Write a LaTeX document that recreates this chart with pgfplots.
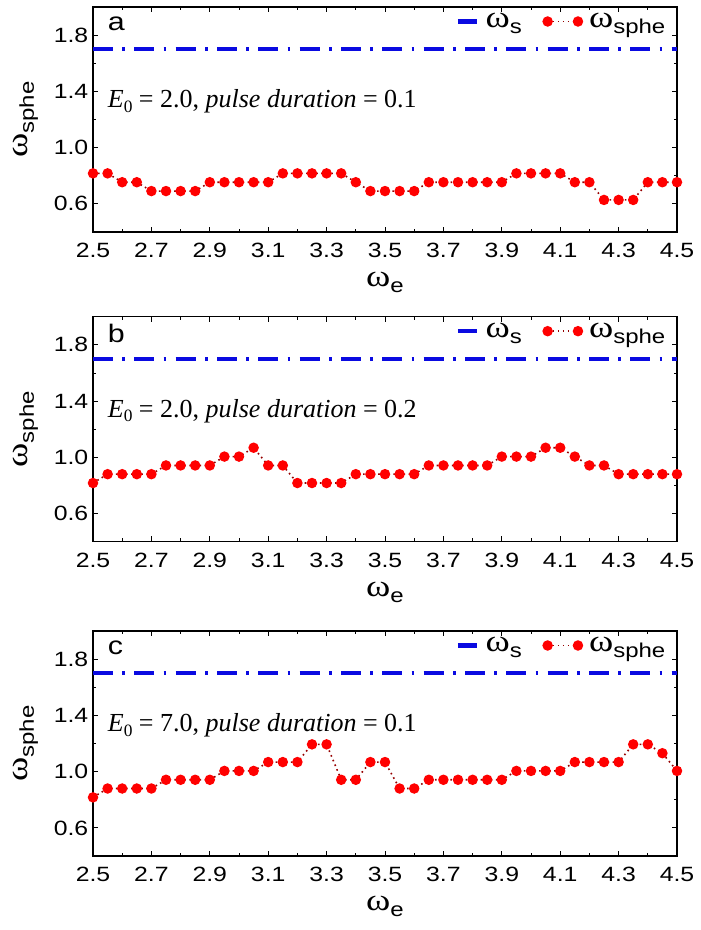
\documentclass[border=0pt]{standalone}
\usepackage{fontspec}
\setmainfont{Liberation Sans}[FakeStretch=1.2]
\newfontfamily\tnr{Liberation Serif}
\newfontfamily\tnrw{Liberation Serif}[FakeStretch=1.2]
\usepackage{pgfplots}
\pgfplotsset{compat=1.18}
\definecolor{myblue}{RGB}{10,10,225}
\definecolor{myred}{RGB}{255,0,0}
\definecolor{dotred}{RGB}{150,0,0}
\newcommand{\om}[1]{{\tnrw\fontsize{23}{23}\selectfont ω}\raisebox{-4.5pt}{\fontsize{15}{15}\selectfont #1}}
\pgfplotsset{
  panel/.style={
    scale only axis, width=438pt, height=168.75pt,
    anchor=north west,
    xmin=2.5, xmax=4.5, ymin=0.4, ymax=2.0,
    xtick={2.5,2.7,2.9,3.1,3.3,3.5,3.7,3.9,4.1,4.3,4.5},
    minor x tick num=1,
    ytick={0.6,1.0,1.4,1.8}, minor ytick={0.8,1.2,1.6},
    tick align=inside, major tick length=4pt, minor tick length=2.5pt,
    every tick/.style={black, line width=0.6pt},
    axis line style={line width=0.9pt},
    tick label style={font=\fontsize{15.5}{17}\selectfont},
    /pgf/number format/fixed, /pgf/number format/fixed zerofill,
    /pgf/number format/precision=1, /pgf/number format/assume math mode=true,
    xticklabel style={yshift=-5pt}, yticklabel style={xshift=0pt},
    xlabel={\om{e}}, ylabel={\om{sphe}},
    xlabel style={at={(axis description cs:0.5,-0.225)}, anchor=center, inner sep=0pt},
    ylabel style={at={(axis description cs:-0.115,0.5)}, anchor=center, inner sep=0pt},
    legend style={draw=none, fill=none, at={(axis description cs:0.985,0.985)}, anchor=north east,
      legend columns=2, inner sep=0pt,
      /tikz/every even column/.append style={column sep=14pt},
      /tikz/every odd column/.append style={column sep=3pt}},
  },
  bluel/.style={color=myblue, line width=3.2pt, dash pattern=on 15pt off 7pt on 2pt off 7pt,
    legend image code/.code={\draw[##1, solid] (0cm,0cm) -- (0.5cm,0cm);}},
  redl/.style={color=dotred, line width=1.2pt, dash pattern=on 1.2pt off 2.6pt, mark=*, mark size=3.3pt,
    mark options={solid, fill=myred, draw=myred},
    legend image code/.code={\draw[##1, mark repeat=1] plot coordinates {(0cm,0cm) (0.8cm,0cm)};}},
}
\newcommand{\anno}[1]{\node[anchor=west, font=\tnr\fontsize{19.5}{19.5}\selectfont] at (axis cs:2.535,1.33) {\textit{E}\raisebox{-0.4ex}{\fontsize{13}{13}\selectfont 0} = #1};}
\newcommand{\lett}[1]{\node[anchor=west, font=\fontsize{19}{19}\selectfont] at (axis cs:2.535,1.88) {#1};}
\begin{document}
\begin{tikzpicture}
\path[use as bounding box] (0,0) rectangle (525pt,-697.5pt);
% panel a
\begin{axis}[panel, at={(69.75pt,-5.25pt)}]
\addplot[bluel] coordinates {(2.5,1.7) (4.5,1.7)};
\addlegendentry{\om{s}}
\addplot[redl] coordinates {
(2.50,0.817) (2.55,0.817) (2.60,0.754) (2.65,0.754) (2.70,0.691) (2.75,0.691) (2.80,0.691) (2.85,0.691)
(2.90,0.754) (2.95,0.754) (3.00,0.754) (3.05,0.754) (3.10,0.754) (3.15,0.817) (3.20,0.817) (3.25,0.817)
(3.30,0.817) (3.35,0.817) (3.40,0.754) (3.45,0.691) (3.50,0.691) (3.55,0.691) (3.60,0.691) (3.65,0.754)
(3.70,0.754) (3.75,0.754) (3.80,0.754) (3.85,0.754) (3.90,0.754) (3.95,0.817) (4.00,0.817) (4.05,0.817)
(4.10,0.817) (4.15,0.754) (4.20,0.754) (4.25,0.628) (4.30,0.628) (4.35,0.628) (4.40,0.754) (4.45,0.754)
(4.50,0.754)};
\addlegendentry{\om{sphe}}
\lett{a}
\anno{2.0, \textit{pulse duration} = 0.1}
\end{axis}
% panel b
\begin{axis}[panel, at={(69.75pt,-237.5pt)}]
\addplot[bluel] coordinates {(2.5,1.7) (4.5,1.7)};
\addlegendentry{\om{s}}
\addplot[redl] coordinates {
(2.50,0.817) (2.55,0.880) (2.60,0.880) (2.65,0.880) (2.70,0.880) (2.75,0.942) (2.80,0.942) (2.85,0.942)
(2.90,0.942) (2.95,1.005) (3.00,1.005) (3.05,1.068) (3.10,0.942) (3.15,0.942) (3.20,0.817) (3.25,0.817)
(3.30,0.817) (3.35,0.817) (3.40,0.880) (3.45,0.880) (3.50,0.880) (3.55,0.880) (3.60,0.880) (3.65,0.942)
(3.70,0.942) (3.75,0.942) (3.80,0.942) (3.85,0.942) (3.90,1.005) (3.95,1.005) (4.00,1.005) (4.05,1.068)
(4.10,1.068) (4.15,1.005) (4.20,0.942) (4.25,0.942) (4.30,0.880) (4.35,0.880) (4.40,0.880) (4.45,0.880)
(4.50,0.880)};
\addlegendentry{\om{sphe}}
\lett{b}
\anno{2.0, \textit{pulse duration} = 0.2}
\end{axis}
% panel c
\begin{axis}[panel, at={(69.75pt,-473.25pt)}]
\addplot[bluel] coordinates {(2.5,1.7) (4.5,1.7)};
\addlegendentry{\om{s}}
\addplot[redl] coordinates {
(2.50,0.817) (2.55,0.880) (2.60,0.880) (2.65,0.880) (2.70,0.880) (2.75,0.942) (2.80,0.942) (2.85,0.942)
(2.90,0.942) (2.95,1.005) (3.00,1.005) (3.05,1.005) (3.10,1.068) (3.15,1.068) (3.20,1.068) (3.25,1.194)
(3.30,1.194) (3.35,0.942) (3.40,0.942) (3.45,1.068) (3.50,1.068) (3.55,0.880) (3.60,0.880) (3.65,0.942)
(3.70,0.942) (3.75,0.942) (3.80,0.942) (3.85,0.942) (3.90,0.942) (3.95,1.005) (4.00,1.005) (4.05,1.005)
(4.10,1.005) (4.15,1.068) (4.20,1.068) (4.25,1.068) (4.30,1.068) (4.35,1.194) (4.40,1.194) (4.45,1.131)
(4.50,1.005)};
\addlegendentry{\om{sphe}}
\lett{c}
\anno{7.0, \textit{pulse duration} = 0.1}
\end{axis}
\end{tikzpicture}
\end{document}
